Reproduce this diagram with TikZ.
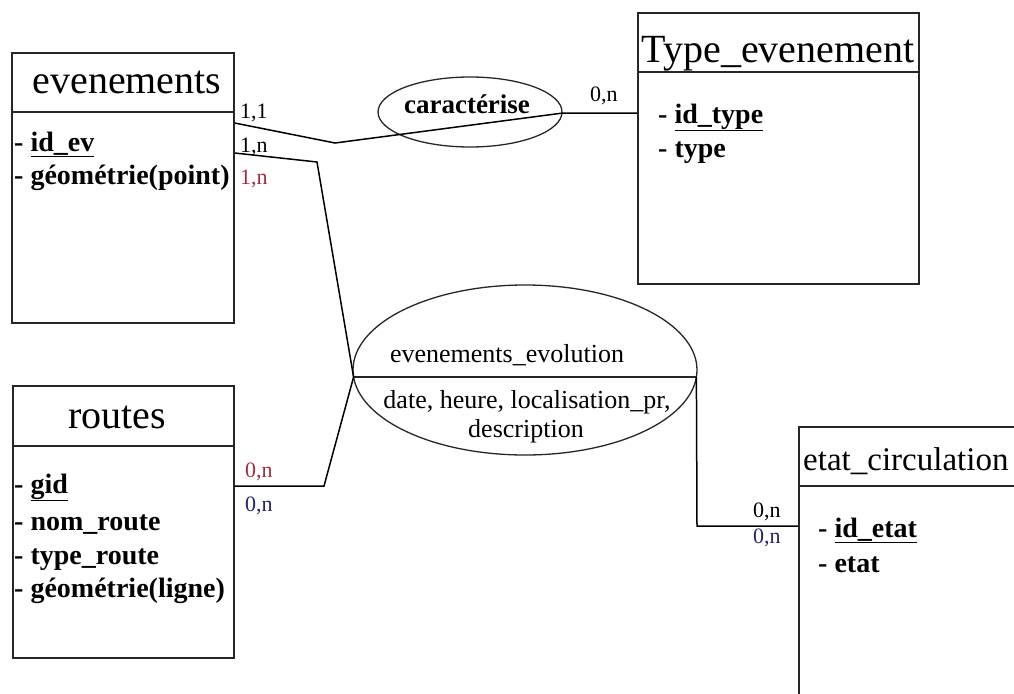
\documentclass[tikz,border=0pt]{standalone}
\usepackage{fontspec}
\setmainfont{Liberation Serif}
\usetikzlibrary{shapes.geometric,calc}
\definecolor{cardred}{RGB}{165,45,60}
\definecolor{cardblue}{RGB}{35,35,110}
\tikzset{
  entity/.style={draw=black!85, line width=1.6pt, rectangle, anchor=north west, inner sep=0pt},
  entsep/.style={draw=black!85, line width=1.6pt},
  etitle/.style={font=\fontsize{40}{44}\selectfont, anchor=base, inner sep=0pt},
  attr/.style={font=\bfseries\fontsize{28}{30}\selectfont, anchor=base west, inner sep=0pt},
  card/.style={font=\fontsize{22}{24}\selectfont, anchor=base west, inner sep=0pt},
  link/.style={line width=1.5pt, draw=black},
  assoc/.style={draw=black!85, line width=1.3pt, ellipse, inner sep=0pt},
  asstext/.style={font=\fontsize{26}{28}\selectfont, anchor=base, inner sep=0pt},
}
\begin{document}
\begin{tikzpicture}[x=1pt,y=-1pt]
\useasboundingbox (0,0) rectangle (1014,693);
\fill[white] (0,0) rectangle (1014,693);
\clip (0,0) rectangle (1014,693);

% entities
\node[entity, minimum width=222pt, minimum height=270pt] (ev) at (11,52) {};
\draw[entsep] ($(ev.north west)+(0,60)$) -- ($(ev.north east)+(0,60)$);
\node[etitle] (evt) at (127,93) {evenements};
\node[attr] (ev1) at (14,151) {- \underline{id\_ev}};
\node[attr] (ev2) at (14,184) {- géométrie(point)};

\node[entity, minimum width=281pt, minimum height=271pt] (typ) at (637,12) {};
\draw[entsep] ($(typ.north west)+(0,60)$) -- ($(typ.north east)+(0,60)$);
\node[etitle] (typt) at (778,63) {Type\_evenement};
\node[attr] (typ1) at (658,123) {- \underline{id\_type}};
\node[attr] (typ2) at (658,157) {- type};

\node[entity, minimum width=221pt, minimum height=272pt] (rt) at (12,385) {};
\draw[entsep] ($(rt.north west)+(0,61)$) -- ($(rt.north east)+(0,61)$);
\node[etitle] (rtt) at (117,428) {routes};
\node[attr] (rt1) at (14,493) {- \underline{gid}};
\node[attr] (rt2) at (14,530) {- nom\_route};
\node[attr] (rt3) at (14,564) {- type\_route};
\node[attr] (rt4) at (14,597) {- géométrie(ligne)};

\node[entity, minimum width=260pt, minimum height=300pt] (etat) at (798,426) {};
\draw[entsep] ($(etat.north west)+(0,60)$) -- ($(etat.north east)+(0,60)$);
\node[etitle, anchor=base west, font=\fontsize{33}{37}\selectfont] (etatt) at (803,470) {etat\_circulation};
\node[attr] (etat1) at (818,537) {- \underline{id\_etat}};
\node[attr] (etat2) at (818,572) {- etat};

% associations
\node[assoc, minimum width=184pt, minimum height=70pt] (car) at (470,112) {};
\node[asstext, font=\bfseries\fontsize{27}{30}\selectfont] (cart) at (467,113) {caractérise};

\node[assoc, minimum width=344pt, minimum height=170pt] (evo) at (525,370) {};
\coordinate (evoL) at ($(evo.center)+(-171.4,7)$);
\coordinate (evoR) at ($(evo.center)+(171.4,7)$);
\draw[draw=black!85, line width=1.3pt] (evoL) -- (evoR);
\node[asstext] (evot) at (507,362) {evenements\_evolution};
\node[asstext] (evoa) at (527,408) {date, heure, localisation\_pr,};
\node[asstext] (evob) at (526,437) {description};

% connectors
\coordinate (b1) at (335,143);
\coordinate (b2) at (563,113);
\draw[link] ($(ev.north east)+(0,71)$) -- (b1) -- (b2) -- (b2 -| typ.west);

\coordinate (b3) at (317,162);
\draw[link] ($(ev.north east)+(0,101)$) -- (b3) -- (evoL);
\coordinate (b4) at (324,486);
\draw[link] (evoL) -- (b4) -- (b4 -| rt.east);

\coordinate (b5) at (697,526);
\draw[link] (evoR) -- (b5) -- (b5 -| etat.west);

% cardinalities
\node[card] (c1) at (240,118) {1,1};
\node[card] (c2) at (240,152) {1,n};
\node[card, text=cardred] (c3) at (240,184) {1,n};
\node[card] (c4) at (590,101) {0,n};
\node[card, text=cardred] (c5) at (245,477) {0,n};
\node[card, text=cardblue] (c6) at (245,511) {0,n};
\node[card] (c7) at (753,517) {0,n};
\node[card, text=cardblue] (c8) at (753,543) {0,n};
\end{tikzpicture}
\end{document}
